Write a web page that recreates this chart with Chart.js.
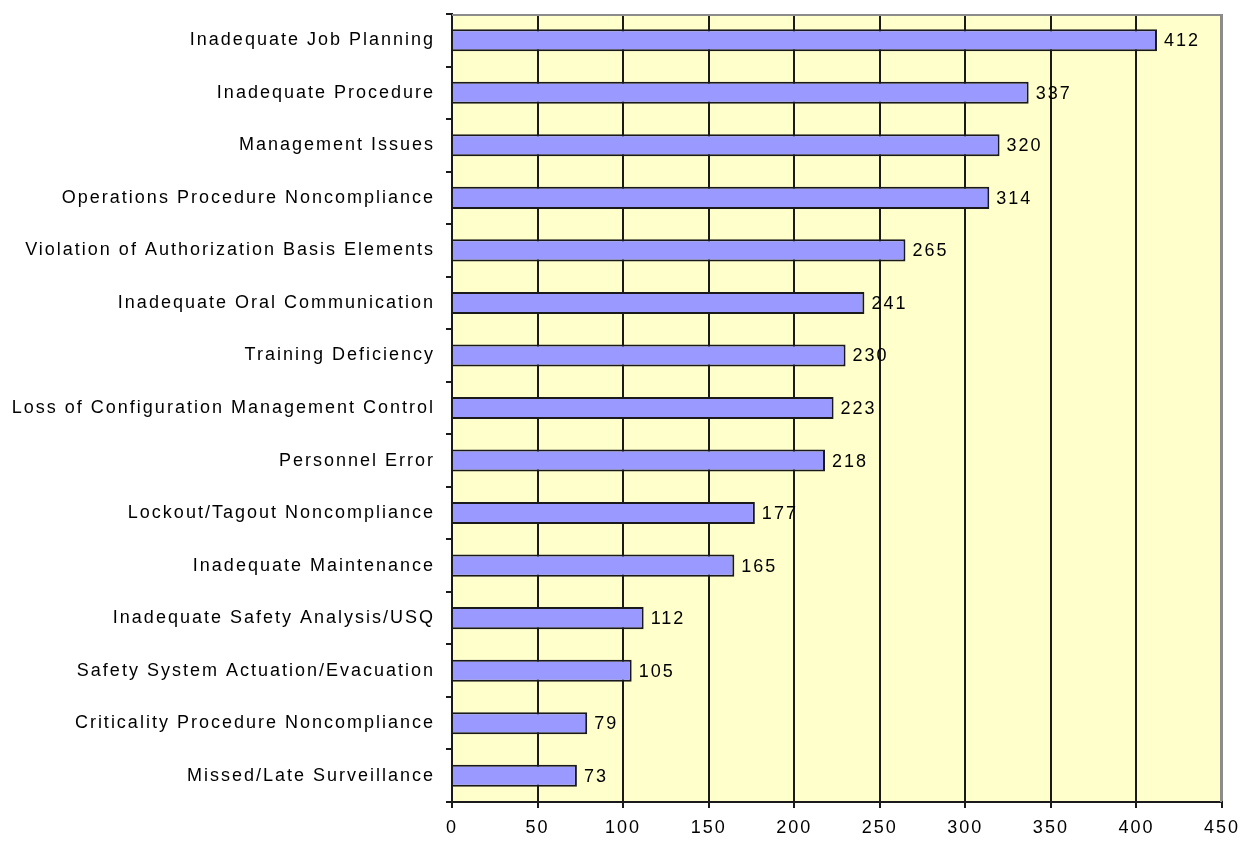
<!DOCTYPE html>
<html>
<head>
<meta charset="utf-8">
<script src="https://cdn.jsdelivr.net/npm/chart.js@4"></script>
<style>
  html, body { margin: 0; padding: 0; background: #fff; }
  #wrap { width: 1242px; height: 843px; }
</style>
</head>
<body>
<div id="wrap"><canvas id="chart"></canvas></div>
<script>
// data
const causes = [
    'Inadequate Job Planning',
    'Inadequate Procedure',
    'Management Issues',
    'Operations Procedure Noncompliance',
    'Violation of Authorization Basis Elements',
    'Inadequate Oral Communication',
    'Training Deficiency',
    'Loss of Configuration Management Control',
    'Personnel Error',
    'Lockout/Tagout Noncompliance',
    'Inadequate Maintenance',
    'Inadequate Safety Analysis/USQ',
    'Safety System Actuation/Evacuation',
    'Criticality Procedure Noncompliance',
    'Missed/Late Surveillance'
];
const counts = [412, 337, 320, 314, 265, 241, 230, 223, 218, 177, 165, 112, 105, 79, 73];
const xTicks = [0, 50, 100, 150, 200, 250, 300, 350, 400, 450];

const FONT = 'Liberation Sans, Arial, sans-serif';

// yellow plot background + grey top/right frame, wide letter spacing like the original
const plotBg = {
    id: 'plotBg',
    beforeDraw(chart) {
        let { ctx, chartArea: a } = chart;
        ctx.letterSpacing = '2px';
        ctx.save();
        ctx.fillStyle = '#ffffcc';
        ctx.fillRect(a.left, a.top, a.right - a.left, a.bottom - a.top);
        ctx.restore();
    },
    afterDatasetsDraw(chart) {
        let { ctx, chartArea: a } = chart;
        ctx.save();
        ctx.strokeStyle = '#8c8c8c';
        ctx.lineWidth = 2;
        ctx.beginPath();
        ctx.moveTo(a.left, a.top + 1);
        ctx.lineTo(a.right - 1, a.top + 1);
        ctx.lineTo(a.right - 1, a.bottom);
        ctx.stroke();
        ctx.restore();
    }
};

// value labels to the right of each bar
const valueLabels = {
    id: 'valueLabels',
    afterDatasetsDraw(chart) {
        let ctx = chart.ctx;
        let meta = chart.getDatasetMeta(0);
        ctx.save();
        ctx.font = '18px ' + FONT;
        ctx.fillStyle = '#000';
        ctx.textBaseline = 'middle';
        meta.data.forEach((bar, i) => {
            ctx.fillText(String(counts[i]), bar.x + 7, bar.y + 1);
        });
        ctx.restore();
    }
};

new Chart(document.getElementById('chart'), {
    type: 'bar',
    data: {
        labels: causes,
        datasets: [{
            data: counts,
            backgroundColor: '#9999ff',
            borderColor: '#1a1a1a',
            borderWidth: 2,
            barPercentage: 0.84,
            categoryPercentage: 0.5
        }]
    },
    options: {
        indexAxis: 'y',
        responsive: true,
        maintainAspectRatio: false,
        animation: false,
        layout: { padding: { top: 14, right: 20, left: 0, bottom: 0 } },
        plugins: {
            legend: { display: false },
            tooltip: { enabled: false }
        },
        scales: {
            x: {
                min: 0,
                max: 450,
                afterBuildTicks: s => { s.ticks = xTicks.map(v => ({ value: v })); },
                afterFit: s => { s.height = 41; s.paddingLeft = 0; s.paddingRight = 0; },
                grid: {
                    color: c => c.tick && c.tick.value === 450 ? '#8c8c8c' : '#1a1a1a',
                    lineWidth: 2,
                    tickLength: 6,
                    tickColor: '#1a1a1a'
                },
                border: { color: '#1a1a1a', width: 2 },
                ticks: {
                    color: '#000',
                    font: { family: FONT, size: 18 },
                    padding: 9,
                    maxRotation: 0
                }
            },
            y: {
                afterFit: s => { s.width = 452; s.paddingTop = 0; s.paddingBottom = 0; },
                grid: {
                    offset: true,
                    drawOnChartArea: false,
                    lineWidth: 2,
                    tickLength: 6,
                    tickColor: '#1a1a1a'
                },
                border: { color: '#1a1a1a', width: 2 },
                ticks: {
                    color: '#000',
                    font: { family: FONT, size: 18 },
                    padding: 11,
                    autoSkip: false
                }
            }
        }
    },
    plugins: [plotBg, valueLabels]
});
</script>
</body>
</html>
